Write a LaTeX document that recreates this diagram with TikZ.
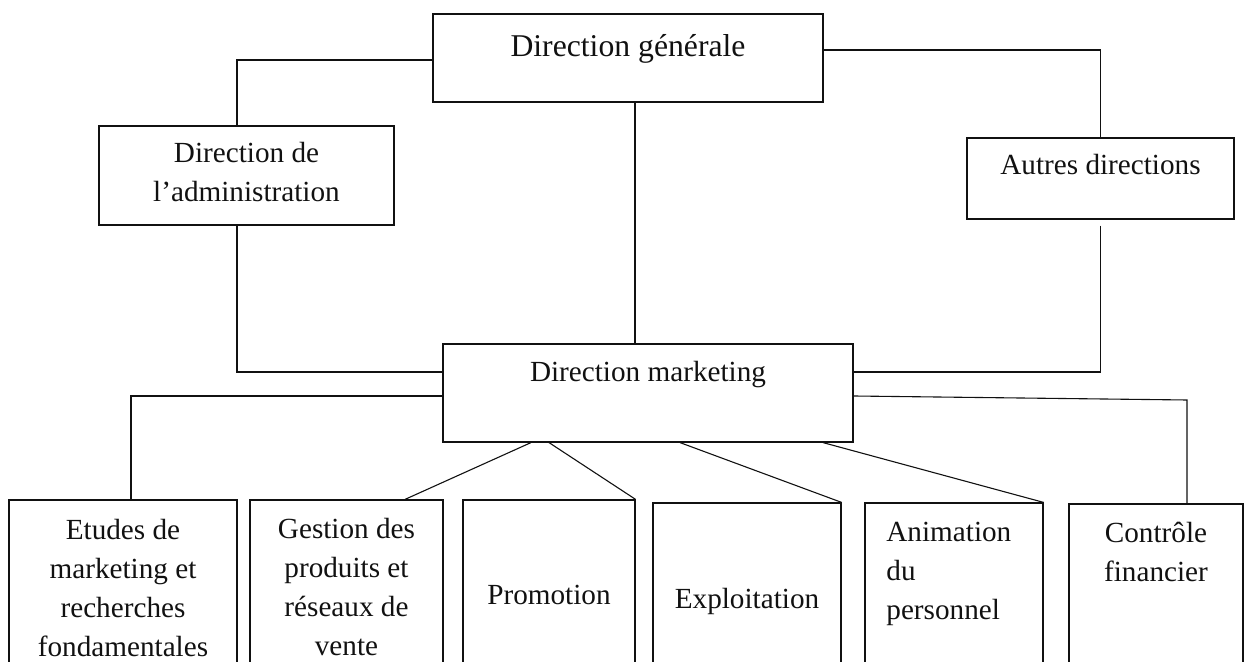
\documentclass[tikz,border=0pt]{standalone}
\usepackage{fontspec}
\setmainfont{Liberation Serif}
\usepackage{tikz}
\definecolor{ink}{HTML}{111111}
\tikzset{box/.style={draw=ink,line width=0.6pt,inner sep=0pt},
  link/.style={draw=ink,line width=0.55pt},
  txt/.style={anchor=base,align=center,inner sep=0pt,text=ink,font=\fontsize{14.6}{19.65}\selectfont},
  head/.style={txt,font=\fontsize{15.85}{21}\selectfont}}

\begin{document}
\begin{tikzpicture}[x=0.5pt,y=-0.5pt]
  \useasboundingbox (0,0) rectangle (1244,662);
  \clip (0,0) rectangle (1244,662);
  % upper level
  \node[box,minimum width=195pt,minimum height=44pt] (dg) at (628,58) {};
  \node[box,minimum width=147.5pt,minimum height=49.5pt] (admin) at (246.5,175.5) {};
  \node[box,minimum width=133.5pt,minimum height=40.5pt] (autres) at (1100.5,178.5) {};
  \node[box,minimum width=205pt,minimum height=49pt] (dm) at (648,393) {};
  % services (cut by the page edge)
  \node[box,minimum width=114pt,minimum height=100pt] (etudes) at (123,600) {};
  \node[box,minimum width=96.5pt,minimum height=100pt] (gestion) at (346.5,600) {};
  \node[box,minimum width=86pt,minimum height=100pt] (promo) at (549,600) {};
  \node[box,minimum width=94pt,minimum height=98.5pt] (exploit) at (747,601.5) {};
  \node[box,minimum width=89pt,minimum height=98.5pt] (anim) at (954,601.5) {};
  \node[box,minimum width=87pt,minimum height=98pt] (ctrl) at (1156,602) {};
  % texts (base = last line)
  \node[head] (dgText) at (628,57) {Direction générale};
  \node[txt] (adminText) at (246.5,202) {Direction de\\l’administration};
  \node[txt] (autresText) at (1100.5,175) {Autres directions};
  \node[txt] (dmText) at (648,382) {Direction marketing};
  \node[txt] (etudesText) at (123,657) {Etudes de\\marketing et\\recherches\\fondamentales};
  \node[txt] (gestionText) at (346.5,656) {Gestion des\\produits et\\réseaux de\\vente};
  \node[txt] (promoText) at (549,605) {Promotion};
  \node[txt] (exploitText) at (747,609) {Exploitation};
  \node[txt,anchor=base west,align=left] (animText) at (886,620) {Animation\\du\\personnel};
  \node[txt] (ctrlText) at (1156,582) {Contrôle\\financier};
  % links
  \coordinate (dgFoot) at ([xshift=3.5pt]dg.south);
  \coordinate (ctrlBend) at (1187,400);
  \draw[link] ([yshift=-1pt]dg.west) -| ([xshift=-4.75pt]admin.north);
  \draw[link] ([xshift=-4.75pt]admin.south) |- ([yshift=10.5pt]dm.west);
  \draw[link] (dgFoot) -- (dgFoot |- dm.north);
  \draw[link] ([yshift=4pt]dg.east) -| (autres.north);
  \draw[link] ([yshift=-3pt]autres.south) |- ([yshift=10.5pt]dm.east);
  \draw[link] ([yshift=-1.5pt]dm.west) -| ([xshift=4pt]etudes.north);
  \draw[link] ([yshift=-1.5pt]dm.east) -- (ctrlBend) -- (ctrlBend |- ctrl.north);
  \draw[link] ([xshift=-58.5pt]dm.south) -- ([xshift=29.25pt]gestion.north);
  \draw[link] ([xshift=-49.5pt]dm.south) -- (promo.north east);
  \draw[link] ([xshift=16pt]dm.south) -- (exploit.north east);
  \draw[link] ([xshift=87.5pt]dm.south) -- (anim.north east);
\end{tikzpicture}
\end{document}
